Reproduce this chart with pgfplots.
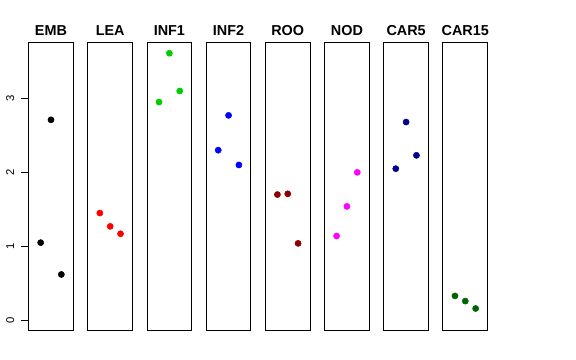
\documentclass[border=0pt]{standalone}
\usepackage{pgfplots}
\pgfplotsset{compat=1.18}
\usepackage{fontspec}
\setmainfont{Liberation Sans}
\definecolor{g3}{RGB}{0,205,0}
\definecolor{dred}{RGB}{139,0,0}
\definecolor{dblue}{RGB}{0,0,139}
\definecolor{dgreen}{RGB}{0,100,0}
\definecolor{mag}{RGB}{255,0,255}
\pgfplotsset{panel/.style={
  scale only axis, width=33.5pt, height=216.2pt,
  xmin=-0.16, xmax=4.16, ymin=-0.144, ymax=3.752,
  xtick=\empty, ytick=\empty,
  axis line style={line width=0.75pt, black},
  anchor=south west,
  title style={font=\bfseries\fontsize{10.8}{12}\selectfont, at={(0.5,1)}, anchor=base, yshift=-0.6pt, inner sep=0pt},
  clip=false},
  dots/.style={only marks, mark=*, mark size=2.3pt, color=#1, mark options={draw=#1, fill=#1}}
}
\begin{document}
\begin{tikzpicture}
\useasboundingbox (0,0) rectangle (432pt,270pt);
\begin{axis}[panel, at={(21.5pt,21.75pt)}, title={EMB},
  ytick={0,1,2,3}, ytick pos=left, yticklabel pos=left, tick align=outside,
  major tick length=5.4pt, tick style={line width=0.75pt, black},
  /pgf/number format/assume math mode=true,
  yticklabel style={rotate=90, anchor=south, font=\fontsize{8.5}{10}\selectfont, inner sep=0pt, yshift=5.3pt}]
\addplot[dots=black] coordinates {(1,1.05) (2,2.71) (3,0.62)};
\end{axis}
\begin{axis}[panel, at={(65.89pt,21.75pt)}, title={LEA}]
\addplot[dots=red] coordinates {(1,1.45) (2,1.27) (3,1.17)};
\end{axis}
\begin{axis}[panel, at={(110.28pt,21.75pt)}, title={INF1}]
\addplot[dots=g3] coordinates {(1,2.95) (2,3.61) (3,3.10)};
\end{axis}
\begin{axis}[panel, at={(154.67pt,21.75pt)}, title={INF2}]
\addplot[dots=blue] coordinates {(1,2.30) (2,2.77) (3,2.10)};
\end{axis}
\begin{axis}[panel, at={(199.06pt,21.75pt)}, title={ROO}]
\addplot[dots=dred] coordinates {(1,1.70) (2,1.71) (3,1.04)};
\end{axis}
\begin{axis}[panel, at={(243.45pt,21.75pt)}, title={NOD}]
\addplot[dots=mag] coordinates {(1,1.14) (2,1.54) (3,2.00)};
\end{axis}
\begin{axis}[panel, at={(287.84pt,21.75pt)}, title={CAR5}]
\addplot[dots=dblue] coordinates {(1,2.05) (2,2.68) (3,2.23)};
\end{axis}
\begin{axis}[panel, at={(332.23pt,21.75pt)}, title={CAR15}]
\addplot[dots=dgreen] coordinates {(1,0.33) (2,0.26) (3,0.16)};
\end{axis}
\end{tikzpicture}
\end{document}
